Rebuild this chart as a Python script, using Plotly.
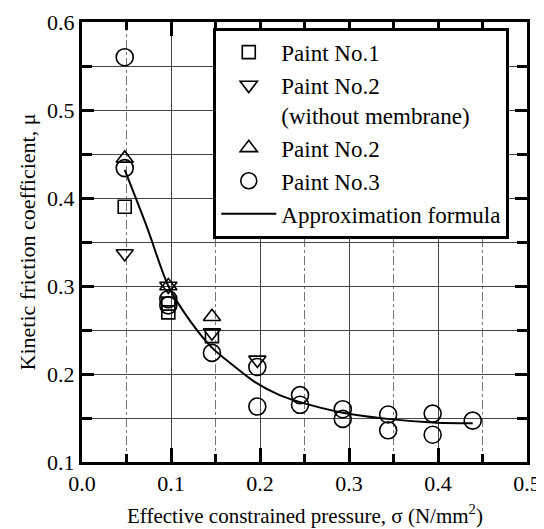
import plotly.graph_objects as go

# ---- data ----
p1_x = [0.048, 0.097, 0.097, 0.146]
p1_y = [0.390, 0.280, 0.270, 0.243]

p2w_x = [0.048, 0.097, 0.146, 0.197]
p2w_y = [0.337, 0.300, 0.247, 0.216]

p2_x = [0.048, 0.097, 0.146]
p2_y = [0.445, 0.300, 0.265]

p3_x = [0.048, 0.048, 0.097, 0.097, 0.146, 0.197, 0.197, 0.245, 0.245,
        0.293, 0.293, 0.344, 0.344, 0.394, 0.394, 0.439]
p3_y = [0.560, 0.434, 0.285, 0.278, 0.224, 0.208, 0.163, 0.176, 0.165,
        0.160, 0.149, 0.154, 0.136, 0.155, 0.131, 0.147]

fit_x = [0.048, 0.073, 0.097, 0.121, 0.146, 0.172, 0.194, 0.222, 0.245,
         0.293, 0.343, 0.394, 0.439]
fit_y = [0.432, 0.367, 0.300, 0.261, 0.230, 0.208, 0.191, 0.176, 0.168,
         0.156, 0.149, 0.145, 0.144]

x_ticks = [0.0, 0.1, 0.2, 0.3, 0.4, 0.5]
x_labels = ["0.0", "0.1", "0.2", "0.3", "0.4", "0.5"]
y_ticks = [0.1, 0.2, 0.3, 0.4, 0.5, 0.6]
y_labels = ["0.1", "0.2", "0.3", "0.4", "0.5", "0.6"]

x_title = "Effective constrained pressure, σ (N/mm<sup>2</sup>)"
y_title = "Kinetic friction coefficient, μ"

FONT = "Liberation Serif"
mk_line = dict(color="black", width=1.6)

fig = go.Figure()
fig.add_trace(go.Scatter(x=p1_x, y=p1_y, mode="markers", name="Paint No.1",
                         marker=dict(symbol="square-open", size=13, line=mk_line, color="black")))
fig.add_trace(go.Scatter(x=p2w_x, y=p2w_y, mode="markers",
                         name="Paint No.2<br>(without membrane)",
                         marker=dict(symbol="triangle-down-open", size=15, line=mk_line, color="black")))
fig.add_trace(go.Scatter(x=p2_x, y=p2_y, mode="markers", name="Paint No.2",
                         marker=dict(symbol="triangle-up-open", size=15, line=mk_line, color="black")))
fig.add_trace(go.Scatter(x=p3_x, y=p3_y, mode="markers", name="Paint No.3",
                         marker=dict(symbol="circle-open", size=17, line=mk_line, color="black")))
fig.add_trace(go.Scatter(x=fit_x, y=fit_y, mode="lines", name="Approximation formula",
                         line=dict(color="black", width=2, shape="spline", smoothing=0.8)))

axis_common = dict(
    showline=True, linecolor="black", linewidth=3, mirror="allticks",
    ticks="inside", tickcolor="black", tickwidth=2.5,
    showgrid=True, gridcolor="#444444", gridwidth=1,
    zeroline=False, automargin=False,
    tickfont=dict(family=FONT, size=22, color="black"),
)

fig.update_xaxes(
    range=[0, 0.5], tickvals=x_ticks, ticktext=x_labels, ticklen=14,
    minor=dict(dtick=0.05, tick0=0, ticks="inside", ticklen=8, tickwidth=2.5,
               tickcolor="black", showgrid=True, gridcolor="#777777",
               griddash="dashdot", gridwidth=1),
    **axis_common,
)
fig.update_yaxes(
    range=[0.1, 0.6], tickvals=y_ticks, ticktext=y_labels, ticklen=12,
    minor=dict(dtick=0.05, tick0=0.1, ticks="inside", ticklen=10, tickwidth=2.5,
               tickcolor="black", showgrid=True, gridcolor="#444444", gridwidth=1),
    title=dict(text=y_title,
               font=dict(family=FONT, size=22, color="black"), standoff=6),
    **axis_common,
)

fig.add_annotation(
    text=x_title, xref="paper", yref="paper", x=0.5, y=-0.12,
    xanchor="center", yanchor="middle", showarrow=False,
    font=dict(family=FONT, size=21, color="black"),
)

# page body has an 8px default margin, so the figure is 8px smaller
fig.update_layout(
    width=536, height=521,
    margin=dict(l=74, r=17, t=14, b=67, autoexpand=False),
    plot_bgcolor="white", paper_bgcolor="white",
    font=dict(family=FONT, size=22, color="black"),
    legend=dict(x=0.295, y=0.987, xanchor="left", yanchor="top",
                bgcolor="white", bordercolor="black", borderwidth=3,
                font=dict(family=FONT, size=23, color="black"),
                tracegroupgap=0, valign="top",
                itemwidth=55),
)

fig.write_html("out.html")
